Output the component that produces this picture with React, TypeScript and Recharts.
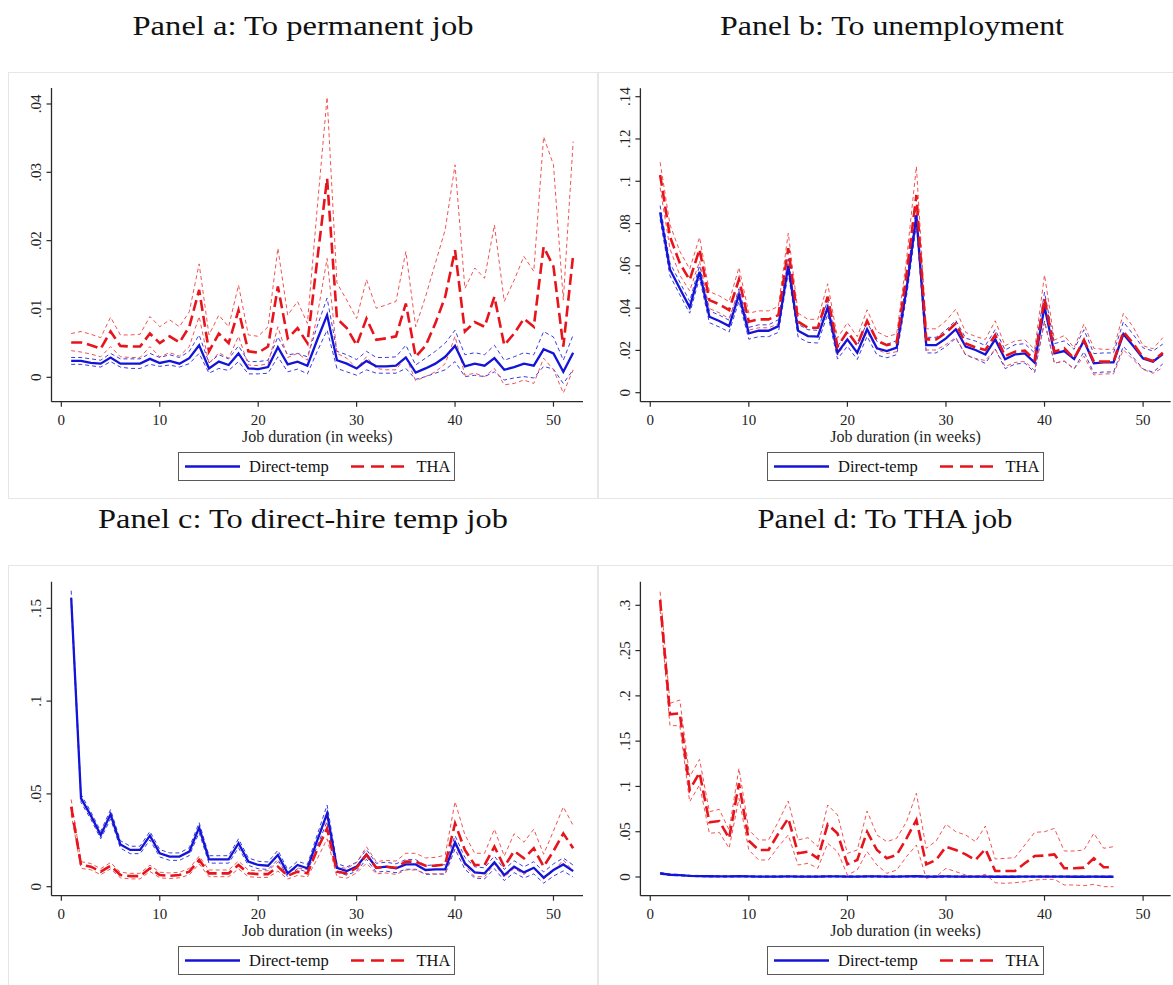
import React from 'react';
import { LineChart, Line, XAxis, YAxis } from 'recharts';

// ---- shared categories ----
const WEEKS = [
  1, 2, 3, 4, 5, 6, 7, 8, 9, 10, 11, 12, 13, 14, 15, 16, 17, 18, 19, 20, 21, 22, 23, 24, 25, 26,
  27, 28, 29, 30, 31, 32, 33, 34, 35, 36, 37, 38, 39, 40, 41, 42, 43, 44, 45, 46, 47, 48, 49, 50, 51, 52,
];
const X_TICKS = [0, 10, 20, 30, 40, 50];

// ---- Panel a: To permanent job ----
const A_DT = [
  0.0024, 0.0024, 0.0021, 0.002, 0.0029, 0.002, 0.002, 0.002, 0.0027, 0.0021,
  0.0024, 0.002, 0.0028, 0.0047, 0.0013, 0.0023, 0.0018, 0.0035, 0.0013, 0.0012,
  0.0015, 0.0044, 0.0019, 0.0023, 0.0017, 0.0055, 0.0091, 0.0025, 0.002, 0.0013,
  0.0024, 0.0016, 0.0016, 0.0017, 0.0029, 0.0007, 0.0013, 0.002, 0.003, 0.0046,
  0.0016, 0.002, 0.0017, 0.0028, 0.0011, 0.0015, 0.002, 0.0017, 0.0041, 0.0035,
  0.0008, 0.0036,
];
const A_DT_HI = [
  0.0029, 0.0029, 0.0027, 0.0025, 0.0035, 0.0027, 0.0027, 0.0027, 0.0035, 0.0029,
  0.0033, 0.0029, 0.0038, 0.0062, 0.0021, 0.0033, 0.0027, 0.0046, 0.0023, 0.0023,
  0.0025, 0.0059, 0.0033, 0.0035, 0.003, 0.0075, 0.0116, 0.0038, 0.0033, 0.0026,
  0.0038, 0.0029, 0.0029, 0.003, 0.0047, 0.0018, 0.0028, 0.0038, 0.005, 0.0069,
  0.0033, 0.0036, 0.0033, 0.0047, 0.0025, 0.003, 0.0036, 0.0033, 0.0067, 0.0059,
  0.0025, 0.0062,
];
const A_DT_LO = [
  0.0019, 0.0019, 0.0017, 0.0015, 0.0023, 0.0015, 0.0013, 0.0013, 0.0019, 0.0016,
  0.0018, 0.0015, 0.002, 0.0035, 0.0006, 0.0013, 0.001, 0.0023, 0.0005, 0.0005,
  0.0006, 0.003, 0.0008, 0.0012, 0.0005, 0.0038, 0.0069, 0.0013, 0.0008, 0.0003,
  0.0011, 0.0006, 0.0006, 0.0006, 0.0013, -0.0003, 0.0001, 0.0006, 0.0011, 0.0023,
  0.0001, 0.0003, 0.0001, 0.0008, -0.0004, -0.0001, 0.0001, -0.0001, 0.0016, 0.0012,
  -0.0009, 0.0011,
];
const A_THA = [
  0.0051, 0.0051, 0.0047, 0.0042, 0.0067, 0.0046, 0.0045, 0.0045, 0.0064, 0.005,
  0.006, 0.0051, 0.0074, 0.0128, 0.0038, 0.0064, 0.005, 0.0098, 0.0038, 0.0036,
  0.0045, 0.0133, 0.0057, 0.0072, 0.005, 0.0172, 0.0291, 0.0086, 0.0072, 0.0047,
  0.0086, 0.0055, 0.0057, 0.006, 0.0108, 0.003, 0.0046, 0.0079, 0.0118, 0.0186,
  0.0067, 0.0081, 0.0074, 0.0118, 0.0047, 0.0064, 0.0086, 0.0074, 0.0191, 0.0162,
  0.0045, 0.0179,
];
const A_THA_HI = [
  0.0064, 0.0067, 0.0063, 0.0058, 0.0088, 0.0062, 0.0062, 0.0063, 0.0089, 0.0074,
  0.0084, 0.0074, 0.0096, 0.0166, 0.0062, 0.0091, 0.0074, 0.0135, 0.0062, 0.006,
  0.0074, 0.0189, 0.0091, 0.0111, 0.0079, 0.0248, 0.041, 0.0138, 0.0113, 0.0086,
  0.0143, 0.0101, 0.0106, 0.0111, 0.0184, 0.0074, 0.0118, 0.0167, 0.0216, 0.0311,
  0.013, 0.016, 0.0145, 0.0223, 0.0111, 0.0142, 0.0177, 0.0155, 0.0352, 0.0311,
  0.0113, 0.0345,
];
const A_THA_LO = [
  0.0039, 0.0037, 0.0034, 0.003, 0.0045, 0.003, 0.0029, 0.0029, 0.0045, 0.003,
  0.0036, 0.0031, 0.0045, 0.0089, 0.002, 0.0036, 0.0028, 0.006, 0.0018, 0.0017,
  0.002, 0.0074, 0.0029, 0.0035, 0.0025, 0.009, 0.0174, 0.0035, 0.0028, 0.0013,
  0.003, 0.0013, 0.0011, 0.0011, 0.003, -0.0005, 0.0001, 0.0008, 0.002, 0.006,
  0.0003, 0.0006, 0.0001, 0.0013, -0.0011, -0.0009, -0.0004, -0.0009, 0.0028, 0.0011,
  -0.0023, 0.0011,
];
const A_Y_TICKS = [0, 0.01, 0.02, 0.03, 0.04];
const A_Y_LABELS = ['0', '.01', '.02', '.03', '.04'];

// ---- Panel b: To unemployment ----
const B_DT = [
  0.0853, 0.0583, 0.0493, 0.0404, 0.0572, 0.0359, 0.0339, 0.0315, 0.0462, 0.0281,
  0.0293, 0.0293, 0.0315, 0.0599, 0.0293, 0.0268, 0.0265, 0.0404, 0.0189, 0.0252,
  0.0189, 0.03, 0.021, 0.0197, 0.0213, 0.049, 0.084, 0.0225, 0.0225, 0.0257,
  0.03, 0.0218, 0.0202, 0.0181, 0.0252, 0.0158, 0.0181, 0.0186, 0.0142, 0.0407,
  0.0186, 0.0197, 0.0159, 0.0246, 0.0139, 0.0143, 0.0143, 0.0277, 0.0221, 0.0162,
  0.0147, 0.0183,
];
const B_DT_HI = [
  0.0885, 0.0613, 0.0523, 0.0432, 0.0602, 0.0387, 0.0367, 0.0343, 0.0492, 0.0309,
  0.0321, 0.0321, 0.0345, 0.0632, 0.0323, 0.0298, 0.0295, 0.0437, 0.0219, 0.0284,
  0.0221, 0.0334, 0.0242, 0.0229, 0.0246, 0.0525, 0.0885, 0.0262, 0.0262, 0.0296,
  0.0342, 0.0258, 0.0244, 0.0223, 0.0298, 0.0202, 0.0227, 0.0232, 0.0188, 0.0475,
  0.0232, 0.0245, 0.0205, 0.0298, 0.0185, 0.0188, 0.0188, 0.0335, 0.0275, 0.0212,
  0.0197, 0.023,
];
const B_DT_LO = [
  0.082, 0.0553, 0.0463, 0.0376, 0.0542, 0.0331, 0.0311, 0.0287, 0.0432, 0.0253,
  0.0265, 0.0265, 0.0285, 0.0566, 0.0263, 0.0238, 0.0235, 0.0371, 0.0159, 0.022,
  0.0157, 0.0266, 0.0178, 0.0165, 0.018, 0.0455, 0.0795, 0.0188, 0.0188, 0.0218,
  0.0258, 0.0178, 0.016, 0.0139, 0.0206, 0.0114, 0.0135, 0.014, 0.0096, 0.0339,
  0.014, 0.0149, 0.0113, 0.0194, 0.0093, 0.0098, 0.0098, 0.0219, 0.0167, 0.0112,
  0.0097, 0.0136,
];
const B_THA = [
  0.103, 0.0738, 0.0612, 0.0533, 0.0678, 0.0438, 0.0418, 0.0391, 0.0536, 0.0336,
  0.0347, 0.0347, 0.0367, 0.0683, 0.0336, 0.0307, 0.0307, 0.0454, 0.0218, 0.0289,
  0.0225, 0.034, 0.0246, 0.0225, 0.0236, 0.056, 0.0935, 0.0252, 0.0252, 0.0284,
  0.0328, 0.0233, 0.0214, 0.0202, 0.0273, 0.0173, 0.0194, 0.0199, 0.0155, 0.0446,
  0.0194, 0.021, 0.0162, 0.0249, 0.0147, 0.0147, 0.0147, 0.0289, 0.0233, 0.0166,
  0.015, 0.0189,
];
const B_THA_HI = [
  0.109, 0.0795, 0.0668, 0.0585, 0.0735, 0.0478, 0.0458, 0.0431, 0.0592, 0.0376,
  0.0387, 0.0387, 0.0408, 0.0755, 0.0376, 0.0347, 0.0347, 0.0515, 0.0258, 0.0331,
  0.0265, 0.0392, 0.0288, 0.0265, 0.0278, 0.063, 0.107, 0.0302, 0.0302, 0.034,
  0.0395, 0.0285, 0.0266, 0.0252, 0.034, 0.0222, 0.0245, 0.025, 0.0205, 0.0557,
  0.0249, 0.027, 0.0212, 0.0325, 0.021, 0.0205, 0.0205, 0.0375, 0.031, 0.0222,
  0.0208, 0.026,
];
const B_THA_LO = [
  0.097, 0.068, 0.0556, 0.0481, 0.0621, 0.0398, 0.0378, 0.0351, 0.048, 0.0296,
  0.0307, 0.0307, 0.0326, 0.0611, 0.0296, 0.0267, 0.0267, 0.0393, 0.0178, 0.0247,
  0.0185, 0.0288, 0.0204, 0.0185, 0.0194, 0.049, 0.08, 0.0202, 0.0202, 0.0228,
  0.0261, 0.0181, 0.0162, 0.0152, 0.0206, 0.0124, 0.0143, 0.0148, 0.0105, 0.0335,
  0.0139, 0.015, 0.0112, 0.0173, 0.0084, 0.0089, 0.0089, 0.0203, 0.0156, 0.011,
  0.0092, 0.0118,
];
const B_Y_TICKS = [0, 0.02, 0.04, 0.06, 0.08, 0.1, 0.12, 0.14];
const B_Y_LABELS = ['0', '.02', '.04', '.06', '.08', '.1', '.12', '.14'];

// ---- Panel c: To direct-hire temp job ----
const C_DT = [
  0.1557, 0.0476, 0.0383, 0.0278, 0.039, 0.0228, 0.0198, 0.0198, 0.0275, 0.018,
  0.0162, 0.0162, 0.0189, 0.0318, 0.0147, 0.0147, 0.0147, 0.0234, 0.0135, 0.0117,
  0.0113, 0.0171, 0.0072, 0.0117, 0.0099, 0.025, 0.0395, 0.0102, 0.0084, 0.0108,
  0.0174, 0.0102, 0.0108, 0.0099, 0.012, 0.012, 0.009, 0.0093, 0.0093, 0.0239,
  0.0126, 0.0077, 0.0072, 0.0131, 0.0063, 0.0108, 0.0077, 0.0102, 0.0049, 0.009,
  0.012, 0.0084,
];
const C_DT_HI = [
  0.1595, 0.0498, 0.0403, 0.0298, 0.0415, 0.0248, 0.0218, 0.0218, 0.0298, 0.02,
  0.0182, 0.0182, 0.021, 0.0345, 0.0167, 0.0167, 0.0167, 0.0258, 0.0155, 0.0137,
  0.0133, 0.0196, 0.0092, 0.0137, 0.012, 0.028, 0.044, 0.0125, 0.0106, 0.0132,
  0.02, 0.0126, 0.0132, 0.0123, 0.0146, 0.0146, 0.0114, 0.0118, 0.0118, 0.0275,
  0.0158, 0.0107, 0.0102, 0.0165, 0.0093, 0.014, 0.0107, 0.0135, 0.0079, 0.0123,
  0.0155, 0.0116,
];
const C_DT_LO = [
  0.152, 0.0454, 0.0363, 0.0258, 0.0365, 0.0208, 0.0178, 0.0178, 0.0252, 0.016,
  0.0142, 0.0142, 0.0168, 0.0291, 0.0127, 0.0127, 0.0127, 0.021, 0.0115, 0.0097,
  0.0093, 0.0146, 0.0052, 0.0097, 0.0078, 0.022, 0.035, 0.0079, 0.0062, 0.0084,
  0.0148, 0.0078, 0.0084, 0.0075, 0.0094, 0.0094, 0.0066, 0.0068, 0.0068, 0.0203,
  0.0094, 0.0047, 0.0042, 0.0097, 0.0033, 0.0076, 0.0047, 0.0069, 0.0019, 0.0057,
  0.0085, 0.0052,
];
const C_THA = [
  0.0431, 0.0117, 0.0108, 0.0081, 0.0113, 0.0063, 0.0057, 0.0057, 0.0099, 0.0063,
  0.0059, 0.0063, 0.0081, 0.0144, 0.0072, 0.0072, 0.0072, 0.0117, 0.0072, 0.0068,
  0.0068, 0.0108, 0.0059, 0.0081, 0.0072, 0.02, 0.0314, 0.0081, 0.0072, 0.0102,
  0.0171, 0.0102, 0.0108, 0.0102, 0.0135, 0.0135, 0.0113, 0.0113, 0.012, 0.0341,
  0.0198, 0.0117, 0.0117, 0.0216, 0.0108, 0.0192, 0.0153, 0.0207, 0.0108, 0.0192,
  0.0287, 0.0207,
];
const C_THA_HI = [
  0.047, 0.0135, 0.0125, 0.0097, 0.013, 0.0078, 0.0072, 0.0072, 0.0116, 0.0078,
  0.0074, 0.0078, 0.0098, 0.0165, 0.009, 0.009, 0.009, 0.0138, 0.009, 0.0086,
  0.0086, 0.0132, 0.0077, 0.0101, 0.0092, 0.025, 0.037, 0.0108, 0.0098, 0.013,
  0.0215, 0.0135, 0.0142, 0.0138, 0.018, 0.018, 0.0155, 0.0158, 0.017, 0.0458,
  0.028, 0.018, 0.018, 0.031, 0.0165, 0.0285, 0.024, 0.031, 0.0175, 0.03,
  0.043, 0.033,
];
const C_THA_LO = [
  0.0392, 0.0099, 0.0091, 0.0065, 0.0096, 0.0048, 0.0042, 0.0042, 0.0082, 0.0048,
  0.0044, 0.0048, 0.0064, 0.0123, 0.0054, 0.0054, 0.0054, 0.0096, 0.0054, 0.005,
  0.005, 0.0084, 0.0041, 0.0061, 0.0052, 0.015, 0.0258, 0.0054, 0.0046, 0.0074,
  0.0127, 0.0069, 0.0074, 0.0066, 0.009, 0.009, 0.0071, 0.0068, 0.007, 0.0224,
  0.0116, 0.0054, 0.0054, 0.0122, 0.0051, 0.0099, 0.0066, 0.0104, 0.0041, 0.0084,
  0.0144, 0.0084,
];
const C_Y_TICKS = [0, 0.05, 0.1, 0.15];
const C_Y_LABELS = ['0', '.05', '.1', '.15'];

// ---- Panel d: To THA job (weeks 1-47) ----
const D_DT = [
  0.004, 0.0025, 0.002, 0.0012, 0.001, 0.0008, 0.0007, 0.0006, 0.0009, 0.0006,
  0.0005, 0.0005, 0.0005, 0.0006, 0.0005, 0.0005, 0.0005, 0.0007, 0.0006, 0.0005,
  0.0005, 0.0007, 0.0006, 0.0005, 0.0005, 0.0006, 0.0008, 0.0005, 0.0005, 0.0006,
  0.0005, 0.0005, 0.0004, 0.0005, 0.0003, 0.0003, 0.0003, 0.0004, 0.0004, 0.0005,
  0.0005, 0.0004, 0.0003, 0.0003, 0.0004, 0.0003, 0.0003,
];
const D_DT_HI = [
  0.005, 0.0033, 0.0027, 0.0019, 0.0017, 0.0015, 0.0014, 0.0013, 0.0016, 0.0013,
  0.0012, 0.0012, 0.0012, 0.0013, 0.0012, 0.0012, 0.0012, 0.0014, 0.0013, 0.0012,
  0.0012, 0.0014, 0.0013, 0.0012, 0.0012, 0.0013, 0.0015, 0.0012, 0.0012, 0.0013,
  0.0012, 0.0012, 0.0011, 0.0012, 0.001, 0.001, 0.001, 0.0011, 0.0011, 0.0012,
  0.0012, 0.0011, 0.001, 0.001, 0.0011, 0.001, 0.001,
];
const D_DT_LO = [
  0.003, 0.0017, 0.0013, 0.0005, 0.0003, 0.0001, 0, -0.0001, 0.0002, -0.0001,
  -0.0002, -0.0002, -0.0002, -0.0001, -0.0002, -0.0002, -0.0002, 0, -0.0001, -0.0002,
  -0.0002, 0, -0.0001, -0.0002, -0.0002, -0.0001, 0.0001, -0.0002, -0.0002, -0.0001,
  -0.0002, -0.0002, -0.0003, -0.0002, -0.0004, -0.0004, -0.0004, -0.0003, -0.0003, -0.0002,
  -0.0002, -0.0003, -0.0004, -0.0004, -0.0003, -0.0004, -0.0004,
];
const D_THA = [
  0.3059, 0.1796, 0.1807, 0.0961, 0.1152, 0.0604, 0.0618, 0.0427, 0.1034, 0.04,
  0.0298, 0.0298, 0.048, 0.0648, 0.0261, 0.028, 0.0206, 0.0582, 0.048, 0.014,
  0.0188, 0.05, 0.0298, 0.0206, 0.0243, 0.0427, 0.0629, 0.014, 0.0188, 0.0335,
  0.0298, 0.025, 0.0188, 0.0309, 0.0066, 0.0066, 0.0066, 0.0151, 0.0232, 0.0236,
  0.025, 0.0096, 0.0096, 0.0103, 0.0206, 0.0107, 0.0107,
];
const D_THA_HI = [
  0.315, 0.1918, 0.1954, 0.1108, 0.1299, 0.0721, 0.0747, 0.0519, 0.12, 0.0519,
  0.0409, 0.0409, 0.0611, 0.0839, 0.0409, 0.0434, 0.0335, 0.0795, 0.0685, 0.0261,
  0.0298, 0.0729, 0.0464, 0.039, 0.0427, 0.061, 0.0924, 0.0317, 0.0397, 0.0582,
  0.05, 0.0464, 0.039, 0.0563, 0.0199, 0.0206, 0.0213, 0.0353, 0.0493, 0.05,
  0.0537, 0.0287, 0.0287, 0.0298, 0.0482, 0.0317, 0.0335,
];
const D_THA_LO = [
  0.2948, 0.1671, 0.1671, 0.0832, 0.1016, 0.0482, 0.0493, 0.0317, 0.0869, 0.0298,
  0.0188, 0.0188, 0.0335, 0.0464, 0.0132, 0.0151, 0.0096, 0.0372, 0.028, 0.0022,
  0.0077, 0.028, 0.0132, 0.004, 0.0077, 0.0225, 0.0353, -0.0015, 0.0004, 0.0096,
  0.0059, 0.0022, 0.0004, 0.003, -0.0063, -0.007, -0.0063, -0.0052, -0.0033, -0.0026,
  -0.0026, -0.0088, -0.0088, -0.0096, -0.0081, -0.0107, -0.0107,
];
const D_Y_TICKS = [0, 0.05, 0.1, 0.15, 0.2, 0.25, 0.3];
const D_Y_LABELS = ['0', '.05', '.1', '.15', '.2', '.25', '.3'];

// ---- styling ----
const FONT = '"Liberation Serif", "Times New Roman", serif';
const BLUE = '#1414d8';
const RED = '#e8141c';
const BLUE_CI = '#3c3ce0';
const RED_CI = '#f05454';
const AXIS = '#2a2a2a';

type Row = Record<string, number>;

function buildRows(
  weeks: number[],
  dt: number[], dtLo: number[], dtHi: number[],
  tha: number[], thaLo: number[], thaHi: number[],
): Row[] {
  return weeks.map((w, i) => ({
    week: w,
    dt: dt[i], dtLo: dtLo[i], dtHi: dtHi[i],
    tha: tha[i], thaLo: thaLo[i], thaHi: thaHi[i],
  }));
}

type PanelProps = {
  left: number;
  top: number;
  width: number;
  height: number;
  plotLeft: number;
  plotRight: number;
  plotTop: number;
  plotBottom: number;
  xDomain: [number, number];
  yDomain: [number, number];
  yTicks: number[];
  yLabels: string[];
  rows: Row[];
};

const X_AXIS_H = 30;

function Panel(p: PanelProps) {
  const margin = {
    top: p.plotTop - p.top,
    right: p.left + p.width - p.plotRight,
    left: 0,
    bottom: p.top + p.height - p.plotBottom - X_AXIS_H,
  };
  const yAxisWidth = p.plotLeft - p.left;

  const yTick = (props: any) => {
    const { x, y, payload } = props;
    const idx = p.yTicks.indexOf(payload.value);
    const cx = x - 8;
    return (
      <text
        x={cx}
        y={y}
        transform={`rotate(-90 ${cx} ${y})`}
        textAnchor="middle"
        dominantBaseline="central"
        fontFamily={FONT}
        fontSize={15}
        fill="#222"
      >
        {idx >= 0 ? p.yLabels[idx] : ''}
      </text>
    );
  };

  const xLabel = (props: any) => {
    const vb = props.viewBox || {};
    return (
      <text
        x={vb.x + vb.width / 2}
        y={vb.y + 34.3}
        textAnchor="middle"
        dominantBaseline="central"
        fontFamily={FONT}
        fontSize={16}
        fill="#222"
      >
        Job duration (in weeks)
      </text>
    );
  };

  const ci = { strokeWidth: 1, strokeDasharray: '4 3', dot: false, activeDot: false, isAnimationActive: false } as const;

  return (
    <div style={{ position: 'absolute', left: p.left, top: p.top }}>
      <LineChart width={p.width} height={p.height} data={p.rows} margin={margin}>
        <XAxis
          dataKey="week"
          type="number"
          domain={p.xDomain}
          ticks={X_TICKS}
          interval={0}
          allowDataOverflow
          height={X_AXIS_H}
          tickSize={5}
          tickMargin={8}
          axisLine={{ stroke: AXIS, strokeWidth: 1.3 }}
          tickLine={{ stroke: AXIS, strokeWidth: 1.2 }}
          tick={{ fontFamily: FONT, fontSize: 15, fill: '#222' }}
          label={xLabel}
        />
        <YAxis
          type="number"
          domain={p.yDomain}
          ticks={p.yTicks}
          interval={0}
          allowDataOverflow
          width={yAxisWidth}
          tickSize={5}
          tickMargin={2}
          axisLine={{ stroke: AXIS, strokeWidth: 1.3 }}
          tickLine={{ stroke: AXIS, strokeWidth: 1.2 }}
          tick={yTick}
        />
        <Line type="linear" dataKey="dtHi" stroke={BLUE_CI} {...ci} />
        <Line type="linear" dataKey="dtLo" stroke={BLUE_CI} {...ci} />
        <Line type="linear" dataKey="thaHi" stroke={RED_CI} {...ci} />
        <Line type="linear" dataKey="thaLo" stroke={RED_CI} {...ci} />
        <Line
          type="linear"
          dataKey="dt"
          stroke={BLUE}
          strokeWidth={2.3}
          dot={false}
          activeDot={false}
          isAnimationActive={false}
        />
        <Line
          type="linear"
          dataKey="tha"
          stroke={RED}
          strokeWidth={2.6}
          strokeDasharray="11 5"
          dot={false}
          activeDot={false}
          isAnimationActive={false}
        />
      </LineChart>
    </div>
  );
}

function LegendBox({ left, top }: { left: number; top: number }) {
  const w = 277;
  const h = 29;
  return (
    <div
      style={{
        position: 'absolute',
        left,
        top,
        width: w,
        height: h,
        border: '1.3px solid #5a5a5a',
        boxSizing: 'border-box',
        background: '#fff',
      }}
    >
      <svg width={w} height={h} style={{ position: 'absolute', left: -1, top: -1 }}>
        <line x1={7} x2={62} y1={14.5} y2={14.5} stroke={BLUE} strokeWidth={2.3} />
        <text x={71} y={14.5} dominantBaseline="central" fontFamily={FONT} fontSize={16.5} fill="#111">
          Direct-temp
        </text>
        <line x1={173} x2={229} y1={14.5} y2={14.5} stroke={RED} strokeWidth={2.6} strokeDasharray="13 7" />
        <text x={238.5} y={14.5} dominantBaseline="central" fontFamily={FONT} fontSize={16.5} fill="#111">
          THA
        </text>
      </svg>
    </div>
  );
}

const TITLES = [
  { text: 'Panel a: To permanent job', x: 303, y: 35, len: 341 },
  { text: 'Panel b: To unemployment', x: 892, y: 35, len: 344 },
  { text: 'Panel c: To direct-hire temp job', x: 303, y: 528, len: 410 },
  { text: 'Panel d: To THA job', x: 885, y: 528, len: 255 },
];

const FRAMES = [
  { left: 8, top: 72, width: 590, height: 427 },
  { left: 598, top: 72, width: 576, height: 427 },
  { left: 8, top: 565, width: 590, height: 425 },
  { left: 598, top: 565, width: 576, height: 425 },
];

export default function App() {
  const rowsA = buildRows(WEEKS, A_DT, A_DT_LO, A_DT_HI, A_THA, A_THA_LO, A_THA_HI);
  const rowsB = buildRows(WEEKS, B_DT, B_DT_LO, B_DT_HI, B_THA, B_THA_LO, B_THA_HI);
  const rowsC = buildRows(WEEKS, C_DT, C_DT_LO, C_DT_HI, C_THA, C_THA_LO, C_THA_HI);
  const weeksD = WEEKS.slice(0, D_THA.length);
  const rowsD = buildRows(weeksD, D_DT, D_DT_LO, D_DT_HI, D_THA, D_THA_LO, D_THA_HI);

  return (
    <div
      style={{
        position: 'absolute',
        left: 0,
        top: 0,
        width: 1173,
        height: 985,
        background: '#fff',
        overflow: 'hidden',
      }}
    >
      {FRAMES.map((f, i) => (
        <div
          key={i}
          style={{
            position: 'absolute',
            left: f.left,
            top: f.top,
            width: f.width,
            height: f.height,
            border: '1px solid #e6e6e6',
            boxSizing: 'border-box',
          }}
        />
      ))}

      <Panel
        left={0} top={60} width={600} height={440}
        plotLeft={51.5} plotRight={583} plotTop={88} plotBottom={401.7}
        xDomain={[-1, 53]} yDomain={[-0.00357, 0.04234]}
        yTicks={A_Y_TICKS} yLabels={A_Y_LABELS} rows={rowsA}
      />
      <Panel
        left={595} top={60} width={578} height={440}
        plotLeft={640.4} plotRight={1170.7} plotTop={88.3} plotBottom={401.7}
        xDomain={[-1, 52.8]} yDomain={[-0.00426, 0.14397]}
        yTicks={B_Y_TICKS} yLabels={B_Y_LABELS} rows={rowsB}
      />
      <Panel
        left={0} top={545} width={600} height={440}
        plotLeft={51.5} plotRight={583} plotTop={581.7} plotBottom={895.7}
        xDomain={[-1, 53]} yDomain={[-0.00485, 0.16434]}
        yTicks={C_Y_TICKS} yLabels={C_Y_LABELS} rows={rowsC}
      />
      <Panel
        left={595} top={545} width={578} height={440}
        plotLeft={640.4} plotRight={1170.7} plotTop={581.7} plotBottom={895.7}
        xDomain={[-1, 52.8]} yDomain={[-0.02065, 0.32606]}
        yTicks={D_Y_TICKS} yLabels={D_Y_LABELS} rows={rowsD}
      />

      <LegendBox left={178} top={452} />
      <LegendBox left={767} top={452} />
      <LegendBox left={178} top={946} />
      <LegendBox left={767} top={946} />

      <svg
        width={1173}
        height={985}
        style={{ position: 'absolute', left: 0, top: 0, pointerEvents: 'none' }}
      >
        {TITLES.map((t) => (
          <text
            key={t.text}
            x={t.x}
            y={t.y}
            textAnchor="middle"
            textLength={t.len}
            lengthAdjust="spacingAndGlyphs"
            fontFamily={FONT}
            fontSize={27}
            fill="#111"
          >
            {t.text}
          </text>
        ))}
      </svg>
    </div>
  );
}
